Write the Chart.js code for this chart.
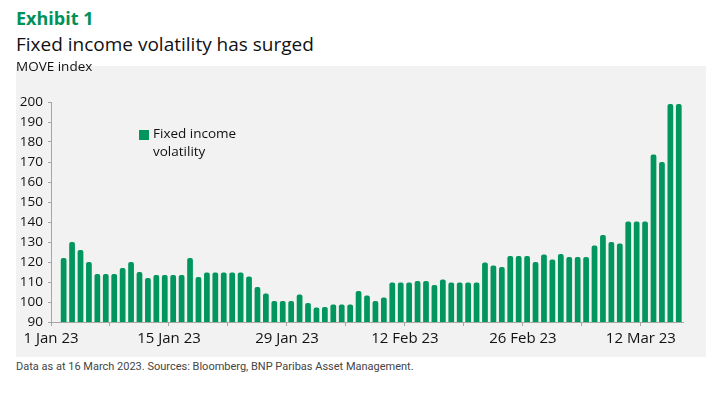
<!DOCTYPE html>
<html lang="en">
<head>
    <meta charset="UTF-8">
    <title>Fixed income volatility has surged</title>
    <script src="https://cdn.jsdelivr.net/npm/chart.js"></script>
    <style>
        * {
            margin: 0;
            padding: 0;
            box-sizing: border-box;
        }

        body {
            width: 725px;
            height: 398px;
            background: #fff;
            font-family: "Open Sans", sans-serif;
            color: #111;
            position: relative;
            overflow: hidden;
        }

        .exhibit {
            position: absolute;
            left: 16px;
            top: 6px;
            font-size: 18px;
            font-weight: 700;
            color: #00915a;
            line-height: 24px;
        }

        .title {
            position: absolute;
            left: 16px;
            top: 31px;
            font-size: 19px;
            line-height: 26px;
        }

        .panel {
            position: absolute;
            left: 16px;
            top: 66px;
            width: 690px;
            height: 291px;
            background: #f2f2f2;
        }

        .unit {
            position: absolute;
            left: 16px;
            top: 57px;
            font-size: 13.5px;
            line-height: 18px;
            z-index: 2;
        }

        .legend {
            position: absolute;
            left: 139px;
            top: 124px;
            width: 110px;
            font-size: 13.5px;
            line-height: 18px;
            display: flex;
            gap: 4px;
            z-index: 2;
        }

        .legend i {
            display: block;
            width: 10px;
            height: 10px;
            margin-top: 6px;
            flex: none;
        }

        .note {
            position: absolute;
            left: 16px;
            top: 360px;
            font-size: 11px;
            color: #444;
            font-family: Roboto, sans-serif;
        }
    </style>
</head>
<body>
    <div class="exhibit">Exhibit 1</div>
    <div class="title">Fixed income volatility has surged</div>
    <div class="unit">MOVE index</div>
    <div class="panel"><canvas id="move"></canvas></div>
    <div class="legend" id="legend"></div>
    <div class="note">Data as at 16 March 2023. Sources: Bloomberg, BNP Paribas Asset Management.</div>
    <script>
        const monthNames = ["Jan", "Feb", "Mar"];
        const seriesName = "Fixed income volatility";
        const barColor = "#00965e";

        // one value per calendar day, 1 Jan 23 to 16 Mar 23 (weekends repeat Friday)
        const janValues = [null, 122, 130, 126, 120, 114, 114, 114, 117, 120, 115, 112, 113.5, 113.5, 113.5, 113.5,
            122, 112.5, 114.7, 114.7, 114.7, 114.7, 114.7, 112.8, 107.5, 104.3, 100.5, 100.5, 100.5, 103.8, 99.5];
        const febValues = [97.3, 97.5, 98.8, 98.8, 98.8, 105.5, 103.2, 100.5, 102.3, 109.8, 109.8, 109.8, 110.5, 110.5,
            108.5, 111.2, 109.8, 109.8, 109.8, 109.8, 119.8, 118.2, 117.5, 123, 123, 123, 120, 123.8];
        const marValues = [121.2, 124, 122.5, 122.5, 122.5, 128.3, 133.5, 130, 129.3, 140.2, 140.2, 140.2, 173.8, 170, 199, 199];

        const xTickLabels = ["1 Jan 23", "15 Jan 23", "29 Jan 23", "12 Feb 23", "26 Feb 23", "12 Mar 23"];

        // categories: every calendar day
        const days = [];
        [janValues, febValues, marValues].forEach((arr, m) => {
            arr.forEach((v, d) => days.push(`${d + 1} ${monthNames[m]} 23`));
        });
        const values = janValues.concat(febValues, marValues);

        // legend
        document.getElementById("legend").innerHTML =
            `<i style="background:${barColor}"></i><span>${seriesName.replace("income ", "income<br>")}</span>`;

        const axisColor = "#a6a6a6";

        new Chart(document.getElementById("move"), {
            type: "bar",
            data: {
                labels: days,
                datasets: [{
                    label: seriesName,
                    data: values,
                    backgroundColor: barColor,
                    borderRadius: 2,
                    barPercentage: 0.68,
                    categoryPercentage: 1
                }]
            },
            options: {
                responsive: true,
                maintainAspectRatio: false,
                animation: false,
                layout: { padding: { top: 36, right: 23, left: 0, bottom: 0 } },
                plugins: {
                    legend: { display: false },
                    tooltip: { enabled: false }
                },
                scales: {
                    x: {
                        afterFit: (s) => { s.height = 35; },
                        grid: {
                            drawOnChartArea: false,
                            offset: true,
                            tickLength: 4,
                            tickColor: (ctx) => (ctx.index % 7 === 0 && ctx.index < days.length ? axisColor : "rgba(0,0,0,0)")
                        },
                        border: { color: axisColor },
                        ticks: {
                            autoSkip: false,
                            maxRotation: 0,
                            minRotation: 0,
                            padding: 4,
                            labelOffset: -4.2,
                            color: "#111",
                            font: { family: "Open Sans", size: 15 },
                            callback: (v, i) => (i % 14 === 0 ? xTickLabels[i / 14] : "")
                        }
                    },
                    y: {
                        min: 90,
                        max: 200,
                        afterFit: (s) => { s.width = 35; },
                        grid: {
                            drawOnChartArea: false,
                            tickLength: 3,
                            tickColor: axisColor
                        },
                        border: { color: axisColor },
                        ticks: {
                            stepSize: 5,
                            padding: 5,
                            color: "#111",
                            font: { family: "Open Sans", size: 13.5 },
                            callback: (v) => (v % 10 === 0 ? v : "")
                        }
                    }
                }
            }
        });
    </script>
</body>
</html>
